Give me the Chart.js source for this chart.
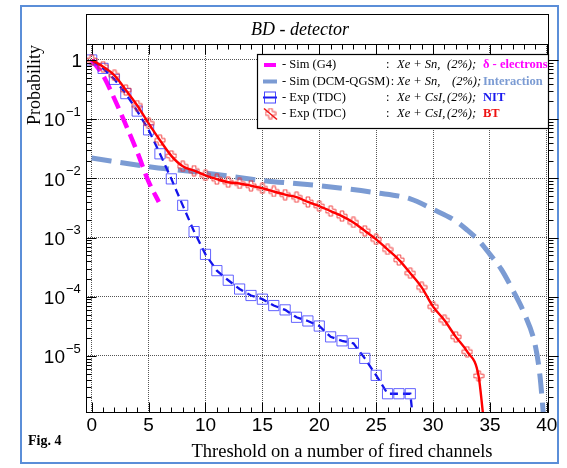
<!DOCTYPE html>
<html><head><meta charset="utf-8">
<script src="https://cdn.jsdelivr.net/npm/chart.js@4.4.1/dist/chart.umd.min.js"></script>
<style>html,body{margin:0;padding:0;background:#fff;overflow:hidden}</style>
</head><body>
<canvas id="c" width="567" height="468" style="display:block;width:567px;height:468px"></canvas>
<script>
// ---- Data ----
const btX  = [0,1,2,3,4,5,6,7,8,9,10,11,12,13,14,15,16,17,18,19,20,21,22,23,24,25,26,27,28,29,30,31,32,33,34];
const btY  = [1.0,0.77,0.55,0.31,0.17,0.085,0.044,0.024,0.016,0.0135,0.0112,0.0097,0.0086,0.0082,0.0075,0.0068,0.0060,0.0053,0.0048,0.0040,0.0034,0.0028,0.0023,0.0018,0.0013,0.00093,0.00063,0.00042,0.00025,0.000144,0.000068,0.000040,0.000021,0.0000118,0.0000046];
const btFitEnd = {x:34.4, y:1e-6};

const nitX = [0,1,2,3,4,5,6,7,8,9,10,11,12,13,14,15,16,17,18,19,20,21,22,23,24,25,26,27,28];
const nitY = [1.0,0.72,0.47,0.27,0.137,0.066,0.026,0.0098,0.0035,0.00126,0.00052,0.000276,0.00019,0.000135,0.000105,0.000091,0.000071,0.000060,0.000045,0.000039,0.000032,0.000021,0.000018,0.0000163,0.0000091,0.0000047,0.0000023,0.0000023,0.0000023];
const nitEnd = {x:28.2, y:1e-6};

const g4X = [0,1,2,3,4,5,5.9];
const g4Y = [1.0,0.55,0.22,0.08,0.028,0.0088,0.004];

const dcmX = [0,5,10,15,20,25,28,30,32,33,34,35,36,37,38,39,39.4,39.7];
const dcmY = [0.022,0.0158,0.0123,0.0092,0.0075,0.0057,0.0045,0.0030,0.0019,0.00134,0.00089,0.00052,0.00029,0.00013,0.000053,0.0000144,0.0000045,0.000001];

const xTicks = [0,5,10,15,20,25,30,35,40];
const yTicks = [1e-5,1e-4,1e-3,1e-2,1e-1,1];
const yTickExp = [-5,-4,-3,-2,-1,0];

const titleText = 'BD - detector';
const xTitle = 'Threshold on a number of fired channels';
const yTitle = 'Probability';
const figLabel = 'Fig. 4';
const legendRows = [
  {name:'- Sim (G4)', colon:':', target:'Xe + Sn,', pct:'(2%);', tag:'δ - electrons', color:'#ff00ff'},
  {name:'- Sim (DCM-QGSM)', colon:':', target:'Xe + Sn,', pct:'(2%);', tag:'Interaction', color:'#7b9bd3'},
  {name:'- Exp (TDC)', colon:':', target:'Xe + CsI,', pct:'(2%);', tag:'NIT', color:'#1a1aee'},
  {name:'- Exp (TDC)', colon:':', target:'Xe + CsI,', pct:'(2%);', tag:'BT', color:'#ee1111'}
];

const pts = (xs, ys) => xs.map((x,i)=>({x:x, y:ys[i]}));

function crossImg(color){
  const c = document.createElement('canvas'); c.width = 12; c.height = 12;
  const g = c.getContext('2d'); g.strokeStyle = color; g.lineWidth = 1;
  const m = 6, w = 1.8, L = 5;
  const p = [[-w,-L],[w,-L],[w,-w],[L,-w],[L,w],[w,w],[w,L],[-w,L],[-w,w],[-L,w],[-L,-w],[-w,-w]];
  g.beginPath(); p.forEach((q,i)=>{ if(i===0) g.moveTo(m+q[0],m+q[1]); else g.lineTo(m+q[0],m+q[1]); });
  g.closePath(); g.stroke();
  return c;
}
const redCross = crossImg('rgba(240,40,40,0.85)');

const SERIF = '"Liberation Serif","Times New Roman",Times,serif';
const SANS = '"Liberation Sans",Arial,Helvetica,sans-serif';

const rootPlugin = {
  id: 'rootStyle',
  beforeDraw(chart){
    const ctx = chart.ctx, a = chart.chartArea;
    ctx.save();
    ctx.fillStyle = '#fff'; ctx.fillRect(0,0,chart.width,chart.height);
    ctx.strokeStyle = '#5b8ed8'; ctx.lineWidth = 2;
    ctx.strokeRect(21, 6, 537, 457);
    ctx.strokeStyle = '#000'; ctx.lineWidth = 1;
    ctx.strokeRect(Math.round(a.left)+0.5, 14.5, Math.round(a.right)-Math.round(a.left), Math.round(a.top)-14);
    ctx.fillStyle = '#000';
    ctx.font = 'italic 18px ' + SERIF;
    ctx.textAlign = 'center'; ctx.textBaseline = 'middle';
    ctx.fillText(titleText, 300, 30);
    ctx.restore();
  },
  afterDatasetsDraw(chart){
    const ctx = chart.ctx, a = chart.chartArea;
    const xs = chart.scales.x, ys = chart.scales.y;
    const L = Math.round(a.left)+0.5, R = Math.round(a.right)+0.5, T = Math.round(a.top)+0.5, B = Math.round(a.bottom)+0.5;
    ctx.save();
    ctx.setLineDash([]);
    ctx.strokeStyle = '#000'; ctx.lineWidth = 1;
    ctx.strokeRect(L, T, R-L, B-T);
    ctx.beginPath();
    for (let v = 0; v <= 40; v++){
      const px = Math.round(xs.getPixelForValue(v))+0.5;
      if (px < a.left || px > a.right+1) continue;
      const len = (v % 5 === 0) ? 10 : 5;
      ctx.moveTo(px, B); ctx.lineTo(px, B-len);
      ctx.moveTo(px, T); ctx.lineTo(px, T+len);
    }
    for (let k = -6; k <= 0; k++){
      for (let m = 1; m <= 9; m++){
        const v = m*Math.pow(10,k);
        if (v < ys.min || v > ys.max) continue;
        const py = Math.round(ys.getPixelForValue(v))+0.5;
        const len = (m === 1) ? 10 : 5;
        ctx.moveTo(L, py); ctx.lineTo(L+len, py);
        ctx.moveTo(R, py); ctx.lineTo(R+len, py);
      }
    }
    ctx.stroke();

    ctx.fillStyle = '#000';
    yTicks.forEach((v,i)=>{
      const py = ys.getPixelForValue(v);
      const e = yTickExp[i];
      ctx.textBaseline = 'middle';
      if (e === 0){
        ctx.font = '19px ' + SANS; ctx.textAlign = 'right';
        ctx.fillText('1', 82, py+2);
      } else {
        ctx.font = '19px ' + SANS; ctx.textAlign = 'right';
        ctx.fillText('10', 65, py+2);
        ctx.font = '13px ' + SANS; ctx.textAlign = 'left';
        ctx.fillText('\u2212' + Math.abs(e), 66, py-7);
      }
    });

    ctx.font = '18.5px ' + SERIF; ctx.textAlign = 'center'; ctx.textBaseline = 'middle';
    ctx.fillText(xTitle, 342, 452);
    ctx.save(); ctx.translate(35, 85); ctx.rotate(-Math.PI/2);
    ctx.font = '18px ' + SERIF; ctx.fillText(yTitle, 0, 0); ctx.restore();
    ctx.font = 'bold 14px ' + SERIF; ctx.textAlign = 'left';
    ctx.fillText(figLabel, 28, 441);

    const bx = 257, by = 54, bw = 548-257, bh = 74;
    ctx.fillStyle = '#fff'; ctx.fillRect(bx, by, bw, bh);
    ctx.strokeStyle = '#000'; ctx.lineWidth = 1.2;
    ctx.strokeRect(bx+0.5, by+0.5, bw, bh);
    const rowY = [65, 81.5, 97.5, 113.5];
    ctx.lineCap = 'butt';
    ctx.strokeStyle = '#ff00ff'; ctx.lineWidth = 4;
    ctx.beginPath(); ctx.moveTo(264, rowY[0]); ctx.lineTo(276, rowY[0]); ctx.stroke();
    ctx.strokeStyle = '#7b9bd3'; ctx.lineWidth = 4;
    ctx.beginPath(); ctx.moveTo(263, rowY[1]); ctx.lineTo(277, rowY[1]); ctx.stroke();
    ctx.strokeStyle = '#1a1aee'; ctx.lineWidth = 2;
    ctx.beginPath(); ctx.moveTo(263, rowY[2]); ctx.lineTo(277, rowY[2]); ctx.stroke();
    ctx.strokeStyle = 'rgba(40,40,255,0.85)'; ctx.lineWidth = 1;
    ctx.strokeRect(264.5, rowY[2]-5.5, 11, 11);
    ctx.strokeStyle = '#ee1111'; ctx.lineWidth = 1.5;
    ctx.beginPath(); ctx.moveTo(264, rowY[3]-5); ctx.lineTo(277, rowY[3]+6); ctx.stroke();
    ctx.drawImage(redCross, 264.5, rowY[3]-6, 12, 12);
    ctx.textBaseline = 'middle';
    legendRows.forEach((r,i)=>{
      const y = rowY[i];
      ctx.fillStyle = '#000';
      ctx.font = '12.5px ' + SERIF; ctx.textAlign = 'left';
      ctx.fillText(r.name, 282, y);
      const nw = ctx.measureText(r.name).width;
      const cx = Math.max(386, 282 + nw + 1);
      ctx.fillText(r.colon, cx, y);
      ctx.font = 'italic 12.5px ' + SERIF;
      ctx.fillText(r.target, 397, y);
      ctx.fillText(r.pct, i === 1 ? 452 : 447, y);
      ctx.fillStyle = r.color;
      ctx.font = 'bold 12.5px ' + SERIF;
      ctx.fillText(r.tag, 483, y);
    });
    ctx.restore();
  }
};

new Chart(document.getElementById('c'), {
  type: 'line',
  data: {
    datasets: [
      { label:'BT fit', data: pts(btX, btY).concat([btFitEnd]), borderColor:'#ff0000', borderWidth:2.4,
        pointRadius:0, fill:false, cubicInterpolationMode:'monotone' },
      { label:'Exp (TDC) BT', data: pts(btX, btY), showLine:false, pointStyle: redCross, pointRadius:6,
        borderColor:'rgba(240,40,40,0.85)', backgroundColor:'rgba(0,0,0,0)' },
      { label:'Exp (TDC) NIT', data: pts(nitX, nitY).concat([nitEnd]), borderColor:'rgb(20,20,235)', borderWidth:2.3,
        borderDash:[8,5], tension:0, pointStyle:'rect', pointBorderWidth:1,
        pointRadius: ctx => ctx.dataIndex < nitX.length ? 7.2 : 0,
        pointBorderColor:'rgba(60,60,255,0.8)', pointBackgroundColor:'rgba(0,0,0,0)', fill:false },
      { label:'Sim (G4)', data: pts(g4X, g4Y), borderColor:'#ff00ff', borderWidth:4.5, borderDash:[14,7],
        pointRadius:0, cubicInterpolationMode:'monotone', fill:false },
      { label:'Sim (DCM-QGSM)', data: pts(dcmX, dcmY), borderColor:'#7b9bd3', borderWidth:5, borderDash:[20,9],
        pointRadius:0, cubicInterpolationMode:'monotone', fill:false }
    ]
  },
  options: {
    responsive:false, animation:false, devicePixelRatio:1,
    layout:{ padding:{ top:44, right:19, left:0, bottom:0 } },
    plugins:{ legend:{display:false}, tooltip:{enabled:false}, title:{display:false} },
    scales:{
      x:{ type:'linear', min:-0.5, max:40.1,
        afterBuildTicks: s => { s.ticks = xTicks.map(v=>({value:v})); },
        afterFit: s => { s.height = 56; },
        grid:{ display:true, drawTicks:false, color:'#555', lineWidth:1 },
        border:{ display:false, dash:[1,1] },
        ticks:{ color:'#000', font:{ family:'"Liberation Sans", Arial, sans-serif', size:19 }, padding:2, maxRotation:0,
          callback: v => String(v) }
      },
      y:{ type:'logarithmic', min:1.13e-6, max:1.86,
        afterBuildTicks: s => { s.ticks = yTicks.map(v=>({value:v})); },
        afterFit: s => { s.width = 86; },
        grid:{ display:true, drawTicks:false, color:'#555', lineWidth:1 },
        border:{ display:false, dash:[1,1] },
        ticks:{ display:false }
      }
    }
  },
  plugins:[rootPlugin]
});
</script>
</body></html>
